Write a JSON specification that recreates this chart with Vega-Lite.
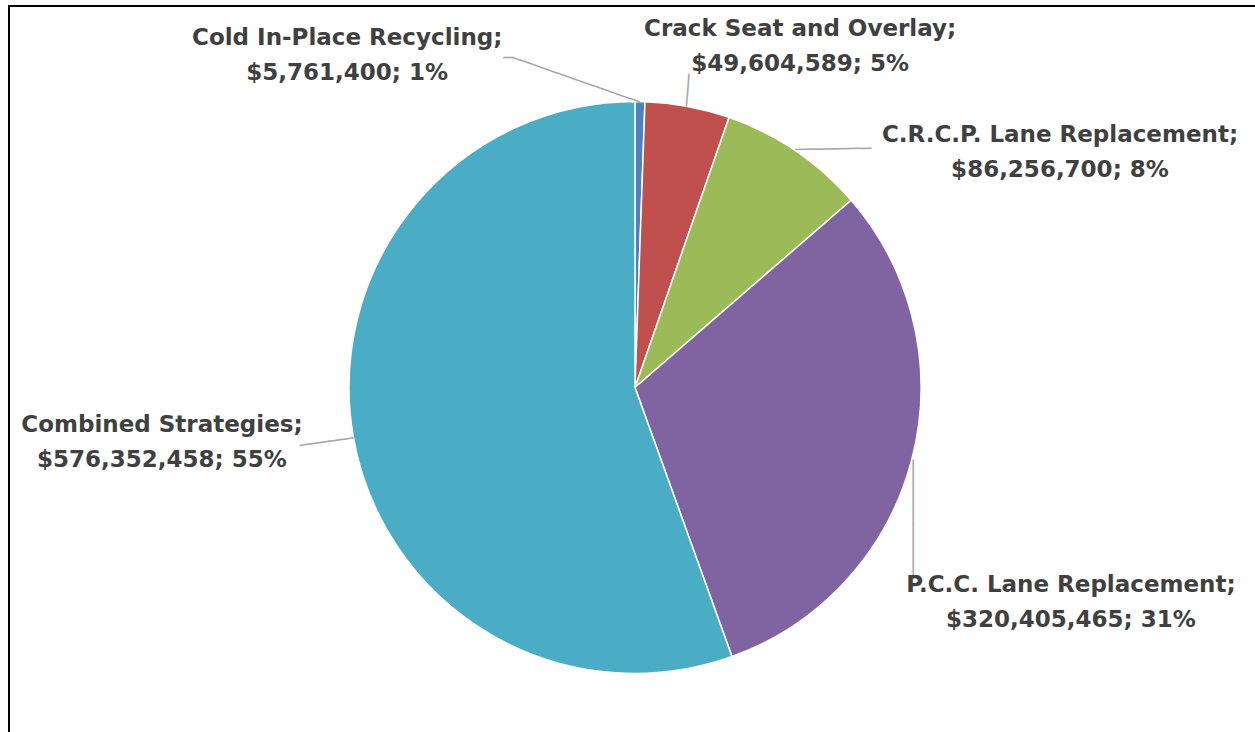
{
  "$schema": "https://vega.github.io/schema/vega-lite/v6.json",
  "width": 1252,
  "height": 763,
  "autosize": {"type": "none"},
  "padding": {"left": 9, "top": 6, "right": -6, "bottom": -37},
  "background": "white",
  "config": {"view": {"stroke": null}},
  "data": {
    "values": [
      {"category": "Cold In-Place Recycling", "value": 5761400, "pct": "1%"},
      {"category": "Crack Seat and Overlay", "value": 49604589, "pct": "5%"},
      {"category": "C.R.C.P. Lane Replacement", "value": 86256700, "pct": "8%"},
      {"category": "P.C.C. Lane Replacement", "value": 320405465, "pct": "31%"},
      {"category": "Combined Strategies", "value": 576352458, "pct": "55%"}
    ]
  },
  "transform": [
    {"calculate": "datum.category + ';\\n$' + format(datum.value, ',') + '; ' + datum.pct", "as": "label"}
  ],
  "layer": [
    {
      "data": {"values": [{"frame": "chart area"}]},
      "mark": {"type": "rect", "fill": null, "stroke": "#000000", "strokeWidth": 2},
      "encoding": {}
    },
    {
      "encoding": {
        "theta": {"field": "value", "type": "quantitative", "stack": true},
        "order": {"field": "value", "type": "quantitative", "sort": "ascending"},
        "detail": {"field": "category", "type": "nominal"}
      },
      "layer": [
        {
          "mark": {"type": "arc", "outerRadius": 286, "stroke": "white", "strokeWidth": 1.5},
          "encoding": {
            "color": {
              "field": "category",
              "type": "nominal",
              "scale": {
                "domain": ["Cold In-Place Recycling", "Crack Seat and Overlay", "C.R.C.P. Lane Replacement", "P.C.C. Lane Replacement", "Combined Strategies"],
                "range": ["#4F81BD", "#C0504D", "#9BBB59", "#8064A2", "#4BACC6"]
              },
              "legend": null
            }
          }
        },
        {
          "mark": {"type": "text", "radius": 286, "align": "left", "baseline": "middle", "angle": 199.3, "font": "DejaVu Sans", "fontSize": 16, "color": "#A6A6A6"},
          "encoding": {"text": {"condition": {"test": "datum.category === 'Cold In-Place Recycling'", "value": "──────────────"}, "value": ""}}
        },
        {
          "mark": {"type": "text", "radius": 286, "align": "left", "baseline": "middle", "angle": 180, "dx": 127, "dy": 45, "font": "DejaVu Sans", "fontSize": 16, "color": "#A6A6A6"},
          "encoding": {"text": {"condition": {"test": "datum.category === 'Cold In-Place Recycling'", "value": "─"}, "value": ""}}
        },
        {
          "mark": {"type": "text", "radius": 286, "align": "left", "baseline": "middle", "angle": -85.5, "font": "DejaVu Sans", "fontSize": 18, "color": "#A6A6A6"},
          "encoding": {"text": {"condition": {"test": "datum.category === 'Crack Seat and Overlay'", "value": "───"}, "value": ""}}
        },
        {
          "mark": {"type": "text", "radius": 286, "align": "left", "baseline": "middle", "angle": -1, "font": "DejaVu Sans", "fontSize": 18, "color": "#A6A6A6"},
          "encoding": {"text": {"condition": {"test": "datum.category === 'C.R.C.P. Lane Replacement'", "value": "───────"}, "value": ""}}
        },
        {
          "mark": {"type": "text", "radius": 286, "align": "left", "baseline": "middle", "angle": 90, "font": "DejaVu Sans", "fontSize": 18, "color": "#A6A6A6"},
          "encoding": {"text": {"condition": {"test": "datum.category === 'P.C.C. Lane Replacement'", "value": "───────────"}, "value": ""}}
        },
        {
          "mark": {"type": "text", "radius": 286, "align": "left", "baseline": "middle", "angle": 172, "font": "DejaVu Sans", "fontSize": 18, "color": "#A6A6A6"},
          "encoding": {"text": {"condition": {"test": "datum.category === 'Combined Strategies'", "value": "─────"}, "value": ""}}
        },
        {
          "mark": {"type": "text", "radius": 300, "align": "center", "baseline": "alphabetic", "dx": -293, "dy": -42.5, "font": "DejaVu Sans", "fontWeight": "bold", "fontSize": 23, "lineHeight": 35, "lineBreak": "\n", "color": "#404040"},
          "encoding": {"text": {"condition": {"test": "datum.category === 'Cold In-Place Recycling'", "field": "label", "type": "nominal"}, "value": ""}}
        },
        {
          "mark": {"type": "text", "radius": 300, "align": "center", "baseline": "alphabetic", "dx": 110, "dy": -56.6, "font": "DejaVu Sans", "fontWeight": "bold", "fontSize": 23, "lineHeight": 35, "lineBreak": "\n", "color": "#404040"},
          "encoding": {"text": {"condition": {"test": "datum.category === 'Crack Seat and Overlay'", "field": "label", "type": "nominal"}, "value": ""}}
        },
        {
          "mark": {"type": "text", "radius": 300, "align": "center", "baseline": "alphabetic", "dx": 256.6, "dy": 3, "font": "DejaVu Sans", "fontWeight": "bold", "fontSize": 23, "lineHeight": 35, "lineBreak": "\n", "color": "#404040"},
          "encoding": {"text": {"condition": {"test": "datum.category === 'C.R.C.P. Lane Replacement'", "field": "label", "type": "nominal"}, "value": ""}}
        },
        {
          "mark": {"type": "text", "radius": 300, "align": "center", "baseline": "alphabetic", "dx": 145.7, "dy": 129, "font": "DejaVu Sans", "fontWeight": "bold", "fontSize": 23, "lineHeight": 35, "lineBreak": "\n", "color": "#404040"},
          "encoding": {"text": {"condition": {"test": "datum.category === 'P.C.C. Lane Replacement'", "field": "label", "type": "nominal"}, "value": ""}}
        },
        {
          "mark": {"type": "text", "radius": 300, "align": "center", "baseline": "alphabetic", "dx": -177.5, "dy": -7, "font": "DejaVu Sans", "fontWeight": "bold", "fontSize": 23, "lineHeight": 35, "lineBreak": "\n", "color": "#404040"},
          "encoding": {"text": {"condition": {"test": "datum.category === 'Combined Strategies'", "field": "label", "type": "nominal"}, "value": ""}}
        }
      ]
    }
  ]
}
